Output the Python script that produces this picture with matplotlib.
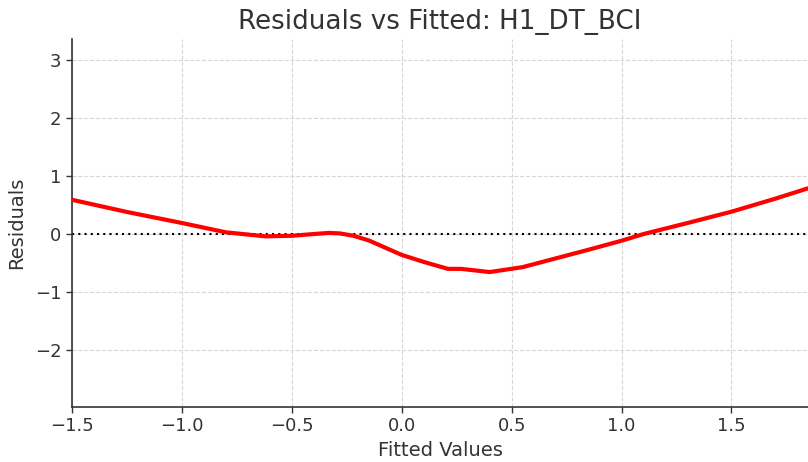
import matplotlib
matplotlib.use("Agg")
import matplotlib.pyplot as plt

# Smoothed residual trend against fitted values
fitted = [-1.5, -1.25, -1.0, -0.8, -0.62, -0.5, -0.4, -0.33, -0.28, -0.22, -0.15,
          0.0, 0.1, 0.21, 0.27, 0.4, 0.55, 0.7, 0.85, 1.0, 1.1, 1.3, 1.5, 1.7, 1.85]
smoothed = [0.59, 0.38, 0.19, 0.03, -0.04, -0.03, 0.0, 0.02, 0.01, -0.03, -0.11,
            -0.36, -0.48, -0.60, -0.60, -0.655, -0.57, -0.42, -0.27, -0.115, 0.0,
            0.19, 0.385, 0.61, 0.79]

x_ticks = [-1.5, -1.0, -0.5, 0.0, 0.5, 1.0, 1.5]
y_ticks = [-2, -1, 0, 1, 2, 3]

text_color = "#333333"

fig = plt.figure(figsize=(8.08, 4.62), dpi=100)
ax = fig.add_axes([0.0891, 0.119, 0.9109, 0.7966])

ax.plot(fitted, smoothed, color="red", lw=3, solid_capstyle="butt",
        solid_joinstyle="round", zorder=3)
ax.axhline(0, color="black", linestyle=(0, (1, 2)), lw=1.5, zorder=2)

ax.set_xlim(-1.5, 1.848)
ax.set_ylim(-2.98, 3.36)
ax.set_xticks(x_ticks)
ax.set_yticks(y_ticks)
ax.set_xticklabels(["\u22121.5", "\u22121.0", "\u22120.5", "0.0", "0.5", "1.0", "1.5"])
ax.set_yticklabels(["\u22122", "\u22121", "0", "1", "2", "3"])

ax.grid(True, color="#d6d6d6", linestyle="--", lw=0.8, zorder=0)
ax.set_axisbelow(True)

for side in ("top", "right"):
    ax.spines[side].set_visible(False)
for side in ("left", "bottom"):
    ax.spines[side].set_color("#333333")
    ax.spines[side].set_linewidth(1.2)

ax.tick_params(axis="both", labelsize=13, colors=text_color, length=4, width=1)
ax.set_xlabel("Fitted Values", fontsize=14, color=text_color, labelpad=4)
ax.set_ylabel("Residuals", fontsize=14, color=text_color, labelpad=6)
ax.set_title("Residuals vs Fitted: H1_DT_BCI", fontsize=18.8, color=text_color, pad=7)

fig.savefig("out.png", dpi=100)
